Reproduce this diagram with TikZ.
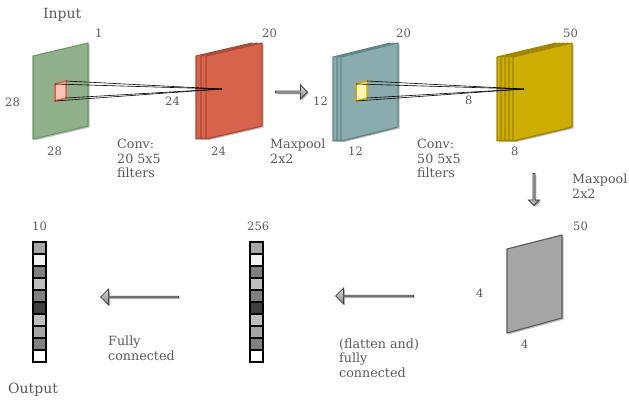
\documentclass[tikz,border=0pt]{standalone}
\usepackage{fontspec}
\setmainfont{DejaVu Serif}
\usetikzlibrary{shapes.arrows,shadows,calc}
\definecolor{txt}{HTML}{595959}
\definecolor{gfill}{HTML}{8FB08A}\definecolor{gline}{HTML}{6B9966}
\definecolor{rfill}{HTML}{D6634A}\definecolor{rline}{HTML}{A84A36}
\definecolor{tfill}{HTML}{8BACAE}\definecolor{tline}{HTML}{5D8689}
\definecolor{yfill}{HTML}{CDAD00}\definecolor{yline}{HTML}{9E8500}
\definecolor{pfill}{HTML}{A5A5A5}\definecolor{pline}{HTML}{595959}
\definecolor{pink}{HTML}{F6C4B8}\definecolor{lyel}{HTML}{FFF6B8}
\begin{document}
\begin{tikzpicture}[x=1pt,y=-1pt,
  lbl/.style={anchor=base west, inner sep=0pt, align=left, text=txt,
    font=\fontsize{12.7}{14.3}\selectfont},
  num/.style={lbl, font=\fontsize{11.5}{14}\selectfont},
  big/.style={lbl, font=\fontsize{14}{16}\selectfont},
  shd/.style={drop shadow={shadow xshift=1.5pt, shadow yshift=-1.5pt, opacity=.25, fill=black}},
  slab/.style={line width=1.1pt, line join=round, shd},
  cone/.style={line width=0.6pt, black},
  blockarrow/.style={single arrow, draw=black!75, line width=0.8pt,
    top color=black!12, bottom color=black!50, inner sep=0pt, shd},
  cell/.style={draw=black, line width=1.3pt}
]
\useasboundingbox (0,0) rectangle (629,400);

% ---- input plane
\draw[slab, draw=gline, fill=gfill] (33,56) -- (88,43) -- (88,126) -- (33,139) -- cycle;
% receptive field on input
\draw[line width=1.5pt, draw=rfill, fill=pink] (55,84) coordinate (r1) -- (66,81) coordinate (r2)
   -- (66,98) coordinate (r3) -- (55,101) coordinate (r4) -- cycle;

% ---- conv1 volume
\foreach \dx in {0,5,10}
  \draw[slab, draw=rline, fill=rfill] ($(196,56)+(\dx,0)$) -- ++(56,-13) -- ++(0,83) -- ++(-56,13) -- cycle;
\coordinate (apex1) at (222,89);
\foreach \c in {r1,r2,r3,r4} \draw[cone] (\c) -- (apex1);

% ---- pool1 volume
\foreach \dx in {0,4,8}
  \draw[slab, draw=tline, fill=tfill] ($(333,57)+(\dx,0)$) -- ++(57,-14) -- ++(0,84) -- ++(-57,14) -- cycle;
\draw[line width=1.5pt, draw=yfill, fill=lyel] (356,84) coordinate (y1) -- (367,81) coordinate (y2)
   -- (367,98) coordinate (y3) -- (356,101) coordinate (y4) -- cycle;

% ---- conv2 volume
\foreach \dx in {0,4,8,12,16}
  \draw[slab, draw=yline, fill=yfill] ($(497,57)+(\dx,0)$) -- ++(59,-14) -- ++(0,84) -- ++(-59,14) -- cycle;
\coordinate (apex2) at (524,89);
\foreach \c in {y1,y2,y3,y4} \draw[cone] (\c) -- (apex2);

% ---- pool2 plane
\draw[slab, draw=pline, fill=pfill] (507,249) -- (562,235) -- (562,318) -- (507,333) -- cycle;

% ---- vectors
\foreach \col [count=\i] in {A6A6A6,F2F2F2,808080,BFBFBF,808080,404040,BFBFBF,A6A6A6,808080,FFFFFF}{
  \definecolor{cc}{HTML}{\col}
  \draw[cell, fill=cc] (250,{242+(\i-1)*12}) rectangle ++(13,12);
  \draw[cell, fill=cc] (33,{242+(\i-1)*12}) rectangle ++(13,12);
}

% ---- arrows
\node[blockarrow, minimum height=32pt, minimum width=14pt, single arrow head extend=2.5pt] (arr1) at (291,92) {};
\node[blockarrow, minimum height=32pt, minimum width=11pt, single arrow head extend=2pt,
      shape border rotate=270, left color=black!12, right color=black!55] (arr2) at (534,189) {};
\node[blockarrow, minimum height=78pt, minimum width=16pt, single arrow head extend=4pt,
      shape border rotate=180] (arr3) at (375,296) {};
\node[blockarrow, minimum height=78pt, minimum width=16pt, single arrow head extend=4pt,
      shape border rotate=180] (arr4) at (140,297) {};

% ---- labels (multi-line labels: base = baseline of the last line)
\node[big] (tin) at (43,18) {Input};
\node[num] (n1) at (95,37) {1};
\node[num] (n28a) at (5,106) {28};
\node[num] (n28b) at (47,155.5) {28};
\node[num] (n24a) at (165,105) {24};
\node[num] (n24b) at (211,155.5) {24};
\node[num] (n20a) at (262,37) {20};
\node[lbl] (tconv1) at (117,177.5) {Conv:\\20 5x5\\filters};
\node[lbl] (tpool1) at (270,163) {Maxpool\\2x2};
\node[num] (n12a) at (313,105) {12};
\node[num] (n12b) at (348,155.5) {12};
\node[num] (n20b) at (396,37) {20};
\node[num] (n8a) at (465,104) {8};
\node[lbl] (tconv2) at (417,177.5) {Conv:\\50 5x5\\filters};
\node[num] (n50a) at (563,37) {50};
\node[num] (n8b) at (511,155) {8};
\node[lbl] (tpool2) at (572,198) {Maxpool\\2x2};
\node[num] (n50b) at (573,230) {50};
\node[num] (n4a) at (476,297) {4};
\node[num] (n4b) at (521,348) {4};
\node[lbl] (tfc1) at (339,377) {(flatten and)\\fully\\connected};
\node[lbl] (tfc2) at (108,360) {Fully\\connected};
\node[num] (n10) at (32,230) {10};
\node[num] (n256) at (247,230) {256};
\node[big] (tout) at (8,393) {Output};
\end{tikzpicture}
\end{document}
